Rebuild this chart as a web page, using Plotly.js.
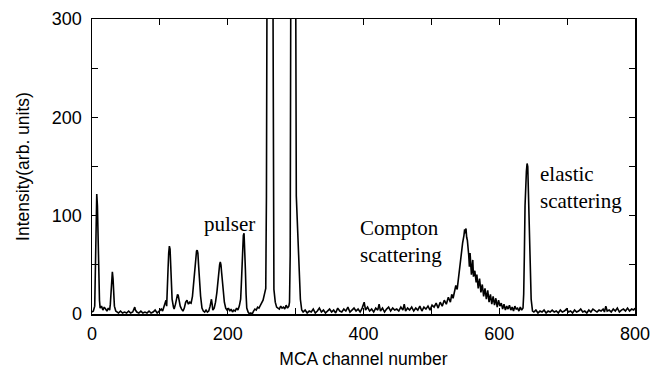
<!DOCTYPE html>
<html>
<head>
<meta charset="utf-8">
<script src="https://cdn.plot.ly/plotly-3.0.1.min.js"></script>
<style>html,body{margin:0;padding:0;background:#fff;}#chart{width:652px;height:369px;}</style>
</head>
<body>
<div id="chart"></div>
<script>
// MCA spectrum (channel, counts)
const channel = [
  0,2,4,5,6,7,8,9,10,11,12,14,16,18,20,22,24,26,27,28,29,30,31,32,33,35,37,
  39,42,45,48,51,54,57,60,62,63,64,66,69,72,75,78,81,84,87,90,93,96,99,
  102,104,106,108,109,110,111,112,113,114,115,116,117,118,120,121,123,125,126,127,128,130,132,134,136,138,140,142,144,146,148,
  150,152,154,155,156,157,158,160,162,164,166,168,170,172,174,176,177,178,180,182,184,186,188,189,190,191,193,195,197,199,
  201,203,205,207,209,211,213,215,217,219,220,221,222,223,224,225,226,227,228,230,232,234,236,238,240,242,244,246,248,250,252,254,256,
  257,258,260,262,264,266,267,268,270,272,274,276,278,280,282,284,286,288,290,291,292,293,295,297,299,300,301,303,305,307,309,
  311,314,317,320,323,326,329,332,335,338,341,344,347,350,353,356,359,362,365,368,371,374,377,380,383,386,389,392,395,398,
  401,403,406,409,412,415,418,421,423,425,428,431,434,437,440,443,446,449,452,455,458,460,462,465,468,471,474,477,480,483,486,489,492,495,498,
  501,504,507,510,513,516,519,522,525,528,530,532,534,536,538,540,542,544,546,548,549,550,551,552,553,555,556,557,558,559,561,562,564,566,567,569,571,573,575,577,579,581,583,585,587,589,591,593,595,597,599,
  601,603,605,607,609,611,613,615,617,619,621,623,625,627,629,631,633,635,636,637,638,640,641,642,643,645,646,647,649,
  651,654,657,660,663,666,669,672,675,678,681,684,687,690,693,696,699,702,705,708,711,714,717,720,723,726,729,732,735,738,741,744,747,750,753,755,757,759,762,765,768,771,774,777,780,783,786,789,792,795,798,800
];
const counts = [
  2,3,8,40,95,122,110,60,25,14,6,8,4,7,5,3,6,4,10,25,38,43,36,18,8,3,2,
  1,3,1,2,1,3,1,2,5,7,4,2,1,3,1,2,1,3,1,2,4,1,3,
  5,3,8,12,14,8,20,45,62,69,66,50,30,15,7,5,10,17,20,19,14,8,5,3,6,12,14,10,12,11,18,
  35,55,64,65,62,50,38,18,6,3,2,4,2,3,8,15,10,4,6,12,22,38,50,53,50,42,25,12,6,4,
  6,3,5,2,4,3,6,4,8,15,30,55,72,80,82,70,45,20,6,2,0,1,0,3,5,4,7,6,9,11,14,20,26,
  120,400,1000,1400,900,320,150,25,12,7,6,5,8,6,7,5,9,6,8,12,60,400,1000,1100,600,240,120,85,50,15,4,
  2,4,1,3,2,5,1,3,6,2,4,1,3,5,2,4,1,6,3,2,5,3,7,2,4,6,3,5,2,6,
  12,4,7,3,5,2,6,4,10,3,6,2,5,7,3,6,4,5,3,7,4,10,3,6,4,7,3,6,4,8,3,7,5,8,4,
  9,7,11,6,12,8,14,10,17,12,20,16,24,29,25,38,48,58,72,80,86,82,87,78,75,60,48,62,50,40,55,38,44,32,40,26,36,22,30,18,26,15,24,12,20,10,18,9,16,7,14,
  8,11,5,10,4,8,5,9,4,7,3,8,5,6,3,7,4,6,20,60,110,145,153,150,120,70,35,15,3,
  2,4,1,3,2,4,1,3,2,4,2,3,1,4,2,3,5,2,3,1,4,2,3,5,2,3,1,4,2,5,3,2,4,3,5,2,8,3,4,2,5,3,6,2,4,5,3,6,3,5,4,6
];
const xTickVals = [0,100,200,300,400,500,600,700,800];
const xTickText = ['0','','200','','400','','600','','800'];
const yTickVals = [0,50,100,150,200,250,300];
const yTickText = ['0','','100','','200','','300'];
const labels = [
  {text:'pulser', x:162, y:91.5},
  {text:'Compton<br>scattering', x:392, y:74},
  {text:'elastic<br>scattering', x:657, y:129}
];

const sans = 'Liberation Sans, Arial, sans-serif';
const serif = 'Liberation Serif, Times New Roman, serif';

const trace = {
  x: channel, y: counts, type: 'scatter', mode: 'lines',
  line: {color: '#000', width: 1.6}, hoverinfo: 'skip', cliponaxis: true
};

const axisCommon = {
  showline: true, linecolor: '#000', linewidth: 1.5, mirror: 'ticks',
  ticks: 'inside', ticklen: 6, tickwidth: 1, tickcolor: '#000',
  showgrid: false, zeroline: false, tickmode: 'array',
  tickfont: {family: sans, size: 18, color: '#000'}
};

const layout = {
  width: 652, height: 369,
  margin: {l: 92, r: 17, t: 19, b: 55},
  paper_bgcolor: '#fff', plot_bgcolor: '#fff',
  showlegend: false,
  xaxis: Object.assign({}, axisCommon, {
    range: [0, 800], tickvals: xTickVals, ticktext: xTickText,
    ticklabelstandoff: 3,
    title: {text: 'MCA channel number', font: {family: sans, size: 17.5, color: '#000'}, standoff: 11}
  }),
  yaxis: Object.assign({}, axisCommon, {
    range: [0, 300], tickvals: yTickVals, ticktext: yTickText,
    ticklabelstandoff: 5,
    title: {text: 'Intensity(arb. units)', font: {family: sans, size: 17.5, color: '#000'}, standoff: 17}
  }),
  annotations: labels.map(l => ({
    text: l.text, x: l.x, y: l.y, xref: 'x', yref: 'y',
    xanchor: 'left', yanchor: 'middle', align: 'left', showarrow: false,
    font: {family: serif, size: 21, color: '#000'}
  }))
};

Plotly.newPlot('chart', [trace], layout, {displayModeBar: false, staticPlot: true});
</script>
</body>
</html>
